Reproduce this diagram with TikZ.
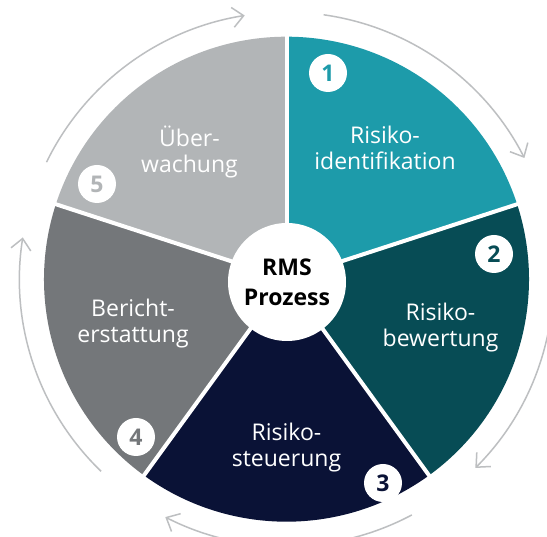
\documentclass[tikz,border=0pt]{standalone}
\usepackage{fontspec}
\setmainfont{Open Sans}
\usetikzlibrary{arrows.meta,calc}
\definecolor{cTeal}{HTML}{1D9BAA}
\definecolor{cDTeal}{HTML}{074C55}
\definecolor{cNavy}{HTML}{0A1236}
\definecolor{cDGray}{HTML}{74777A}
\definecolor{cLGray}{HTML}{B2B5B7}
\definecolor{cArrow}{HTML}{BDBFC1}
\tikzset{
  lbl/.style={text=white, align=center, anchor=base, inner sep=0pt,
    font=\fontsize{23}{26}\selectfont},
  numc/.style={circle, fill=white, minimum size=38pt, inner sep=0pt,
    font=\fontsize{23}{23}\selectfont\bfseries},
  cyc/.style={draw=cArrow, line width=1.5pt,
    -{Straight Barb[length=11pt,width=20pt,line width=1.5pt]}},
  divider/.style={draw=white, line width=4pt}
}
\begin{document}
\begin{tikzpicture}[x=1pt,y=1pt]
\clip (0,0) rectangle (547,537);
\fill[white] (0,0) rectangle (547,537);
\coordinate (C) at (286.5,257.8);
\def\R{242.5}
\def\RA{267}
% sectors
\fill[cTeal]  (C) -- ([shift={(18:\R)}]C)  arc[start angle=18,  end angle=90,  radius=\R] -- cycle;
\fill[cDTeal] (C) -- ([shift={(-54:\R)}]C) arc[start angle=-54, end angle=18,  radius=\R] -- cycle;
\fill[cNavy]  (C) -- ([shift={(-126:\R)}]C) arc[start angle=-126, end angle=-54, radius=\R] -- cycle;
\fill[cDGray] (C) -- ([shift={(162:\R)}]C) arc[start angle=162, end angle=234, radius=\R] -- cycle;
\fill[cLGray] (C) -- ([shift={(90:\R)}]C)  arc[start angle=90,  end angle=162, radius=\R] -- cycle;
% dividers
\foreach \a in {90,18,-54,-126,162}
  \draw[divider] (C) -- ([shift={(\a:\R+5)}]C);
% centre
\node[circle, fill=white, minimum size=118pt, inner sep=0pt, align=center,
  font=\fontsize{23}{30}\selectfont\bfseries] (ctr) at (287,255) {RMS\\Prozess};
% cycle arrows
\draw[cyc] ([shift={(154:\RA)}]C) arc[start angle=154, end angle=99, radius=\RA];
\draw[cyc] ([shift={(82:\RA)}]C) arc[start angle=82, end angle=27, radius=\RA];
\draw[cyc] ([shift={(10:\RA)}]C) arc[start angle=10, end angle=-45, radius=\RA];
\draw[cyc] ([shift={(-62:\RA)}]C) arc[start angle=-62, end angle=-117, radius=\RA];
\draw[cyc] ([shift={(-134:\RA)}]C) arc[start angle=-134, end angle=-189, radius=\RA];
% labels (anchor base = baseline of last line)
\node[lbl] (l1) at (385,{537-169.5}) {Risiko-\\identifikation};
\node[lbl] (l2) at (440.5,{537-347}) {Risiko-\\bewertung};
\node[lbl] (l3) at (286.5,{537-466.5}) {Risiko-\\steuerung};
\node[lbl] (l4) at (133,{537-342.5}) {Bericht-\\erstattung};
\node[lbl] (l5) at (189.5,{537-173}) {Über-\\wachung};
% numbers
\node[numc, text=cTeal]  (n1) at (328,{537-73})  {1};
\node[numc, text=cDTeal] (n2) at (494,{537-254}) {2};
\node[numc, text=cNavy]  (n3) at (383,{537-483}) {3};
\node[numc, text=cDGray] (n4) at (136,{537-437}) {4};
\node[numc, text=cLGray] (n5) at (97,{537-184})  {5};
\end{tikzpicture}
\end{document}
